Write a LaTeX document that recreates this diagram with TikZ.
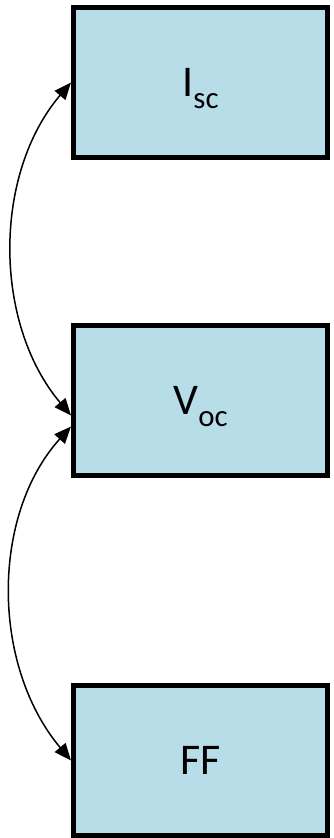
\documentclass[tikz,border=0pt]{standalone}
\usepackage{fontspec}
\setmainfont{Carlito}
\usetikzlibrary{arrows.meta,calc}
\definecolor{boxfill}{RGB}{183,222,232}
\newcommand\lowsub[1]{\raisebox{-12bp}[0pt][0pt]{\fontsize{31}{34}\selectfont #1}}
\begin{document}
\begin{tikzpicture}[x=1bp,y=1bp,
  param/.style={draw=black, line width=5bp, fill=boxfill, minimum width=254bp, minimum height=150bp, inner sep=0pt, font=\fontsize{44}{48}\selectfont},
  link/.style={line width=1.5bp, {Triangle[length=17bp,width=14bp]}-{Triangle[length=17bp,width=14bp]}}]
\useasboundingbox (0,0) rectangle (333,-838);
\node[param] (isc) at (200.5,-82.5) {I\lowsub{sc}};
\node[param] (voc) at (200.5,-400.5) {V\lowsub{oc}};
\node[param] (ff) at (200.5,-760.5) {FF};
\coordinate (v1) at ($(voc.west)+(0,-15)$);
\coordinate (v2) at ($(voc.west)+(0,-26)$);
\draw[link] (isc.west) .. controls (-7,-174) and (-7,-323) .. (v1);
\draw[link] (v2) .. controls (-9,-515) and (-9,-665) .. (ff.west);
\end{tikzpicture}
\end{document}
